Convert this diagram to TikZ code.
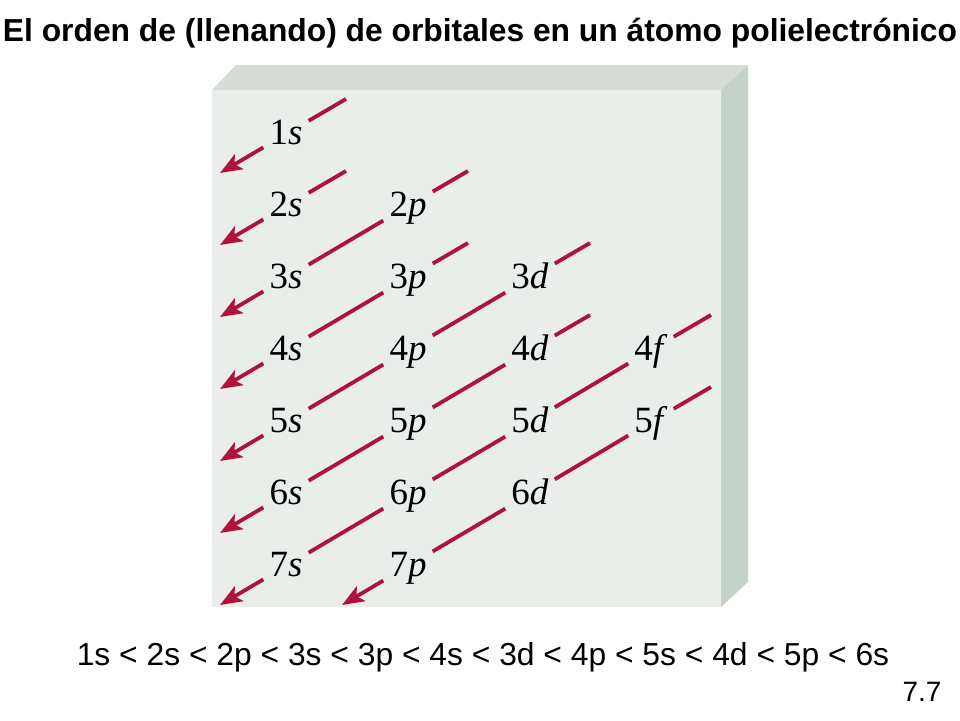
\documentclass[tikz,border=0pt]{standalone}
\usepackage{fontspec}
\setmainfont{Liberation Serif}
\newfontfamily\arialfont{Liberation Sans}
\usetikzlibrary{arrows.meta, calc}

\begin{document}
\begin{tikzpicture}[x=1pt, y=-1pt, >={Stealth[length=22pt, width=17pt, inset=5pt]}, node distance=72pt]
%====Definizione colori===============================================================
	\definecolor{crimson}{RGB}{176,18,62}
	\definecolor{facefront}{RGB}{233,238,234}
	\definecolor{facetop}{RGB}{214,221,215}
	\definecolor{faceside}{RGB}{196,210,200}
%====Definizione stili===============================================================
	\tikzstyle{orb}=[inner sep=6pt, text height=22pt, text depth=1pt, font=\fontsize{37}{42}\selectfont]
	\tikzstyle{orbline}=[->, crimson, line width=3.8pt]
	\tikzstyle{caption}=[font=\arialfont\fontsize{31.8}{38}\selectfont]
	\useasboundingbox (0,0) rectangle (960,720);
%====Scatola===============================================================
	\fill[facetop] (212,90) -- (236,65) -- (748,65) -- (721,90) -- cycle;
	\fill[faceside] (721,90) -- (748,65) -- (748,582) -- (721,607) -- cycle;
	\fill[facefront] (212,90) rectangle (721,607);
%====Titoli===============================================================
	\node[caption, font=\arialfont\bfseries\fontsize{31.8}{38}\selectfont] (title) at (480,33) {El orden de (llenando) de orbitales en un átomo polielectrónico};
	\node[caption] (order) at (483,657) {1s < 2s < 2p < 3s < 3p < 4s < 3d < 4p < 5s < 4d < 5p < 6s};
	\node[caption, font=\arialfont\fontsize{28}{32}\selectfont] (num) at (922,692) {7.7};
%====Orbitali e posizione===============================================================
	\node[orb] (s1) at (286,134) {1\textit{s}};
	\node[orb] (s2) [below of=s1] {2\textit{s}};
	\node[orb] (s3) [below of=s2] {3\textit{s}};
	\node[orb] (s4) [below of=s3] {4\textit{s}};
	\node[orb] (s5) [below of=s4] {5\textit{s}};
	\node[orb] (s6) [below of=s5] {6\textit{s}};
	\node[orb] (s7) [below of=s6] {7\textit{s}};
	\node[orb] (p2) [right of=s2, node distance=122pt] {2\textit{p}};
	\node[orb] (p3) [below of=p2] {3\textit{p}};
	\node[orb] (p4) [below of=p3] {4\textit{p}};
	\node[orb] (p5) [below of=p4] {5\textit{p}};
	\node[orb] (p6) [below of=p5] {6\textit{p}};
	\node[orb] (p7) [below of=p6] {7\textit{p}};
	\node[orb] (d3) [right of=p3, node distance=122pt] {3\textit{d}};
	\node[orb] (d4) [below of=d3] {4\textit{d}};
	\node[orb] (d5) [below of=d4] {5\textit{d}};
	\node[orb] (d6) [below of=d5] {6\textit{d}};
	\node[orb] (f4) [right of=d4, node distance=121pt] {4\textit{f}};
	\node[orb] (f5) [below of=f4] {5\textit{f}};
%====Estremi delle diagonali===============================================================
	\coordinate (a1) at ($(s1)+(60,-35)$);
	\coordinate (a2) at ($(s2)+(60,-35)$);
	\coordinate (a3) at ($(p2)+(60,-35)$);
	\coordinate (a4) at ($(p3)+(60,-35)$);
	\coordinate (a5) at ($(d3)+(60,-35)$);
	\coordinate (a6) at ($(d4)+(60,-35)$);
	\coordinate (a7) at ($(f4)+(60,-35)$);
	\coordinate (a8) at ($(f5)+(60,-35)$);
	\coordinate (e1) at ($(s1)+(-66,39)$);
	\coordinate (e2) at ($(s2)+(-66,39)$);
	\coordinate (e3) at ($(s3)+(-66,39)$);
	\coordinate (e4) at ($(s4)+(-66,39)$);
	\coordinate (e5) at ($(s5)+(-66,39)$);
	\coordinate (e6) at ($(s6)+(-66,39)$);
	\coordinate (e7) at ($(s7)+(-66,39)$);
	\coordinate (e8) at ($(p7)+(-66,39)$);
%====Diagonali e frecce===============================================================
	\draw[orbline] (a1) -- (s1) -- (e1);
	\draw[orbline] (a2) -- (s2) -- (e2);
	\draw[orbline] (a3) -- (p2) -- (s3) -- (e3);
	\draw[orbline] (a4) -- (p3) -- (s4) -- (e4);
	\draw[orbline] (a5) -- (d3) -- (p4) -- (s5) -- (e5);
	\draw[orbline] (a6) -- (d4) -- (p5) -- (s6) -- (e6);
	\draw[orbline] (a7) -- (f4) -- (d5) -- (p6) -- (s7) -- (e7);
	\draw[orbline] (a8) -- (f5) -- (d6) -- (p7) -- (e8);
\end{tikzpicture}
\end{document}
